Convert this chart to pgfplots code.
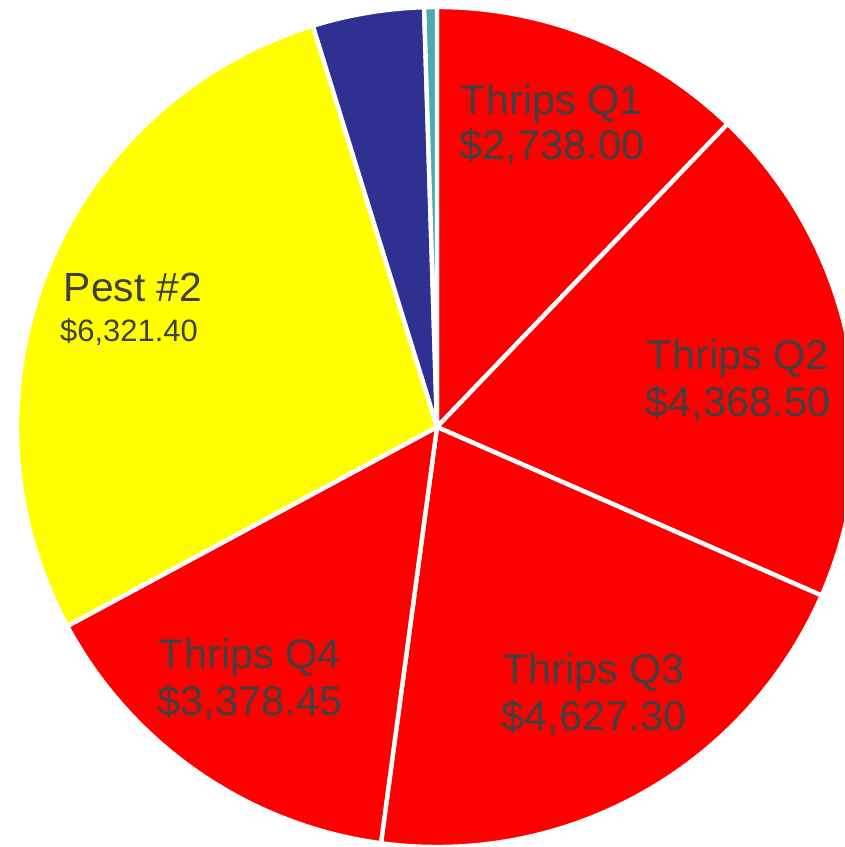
\documentclass[border=0pt]{standalone}
\usepackage{pgfplots}
\pgfplotsset{compat=1.18}
\usepackage{pgfplotstable}
\usepackage{fontspec}
\setmainfont{Liberation Sans}

\definecolor{slice0}{RGB}{255,0,0}
\definecolor{slice1}{RGB}{255,0,0}
\definecolor{slice2}{RGB}{255,0,0}
\definecolor{slice3}{RGB}{255,0,0}
\definecolor{slice4}{RGB}{255,255,0}
\definecolor{slice5}{RGB}{46,49,146}
\definecolor{slice6}{RGB}{75,172,176}
\definecolor{labelgray}{RGB}{64,64,64}

% slice values, clockwise from 12 o'clock
\pgfplotstableread{
label value
ThripsQ1 2738.00
ThripsQ2 4368.50
ThripsQ3 4627.30
ThripsQ4 3378.45
Pest2 6321.40
Other 965
Minor 110
}\piedata

\begin{document}
\begin{tikzpicture}
% total and start/end angles of each slice
\gdef\tot{0}
\foreach \i in {0,...,6}{%
  \pgfplotstablegetelem{\i}{value}\of\piedata
  \xdef\tot{\fpeval{\tot+\pgfplotsretval}}%
}
\gdef\cum{0}
\foreach \i in {0,...,6}{%
  \pgfplotstablegetelem{\i}{value}\of\piedata
  \expandafter\xdef\csname sA\i\endcsname{\fpeval{90-\cum/\tot*360}}%
  \xdef\cum{\fpeval{\cum+\pgfplotsretval}}%
  \expandafter\xdef\csname eA\i\endcsname{\fpeval{90-\cum/\tot*360}}%
}
\begin{axis}[
    width=8.44cm, height=8.47cm,
    scale only axis,
    hide axis,
    xmin=-437, xmax=407,
    ymin=-420, ymax=427,
    clip=true,
]
\pgfplotsinvokeforeach{0,...,6}{%
  \filldraw[fill=slice#1, draw=white, line width=1.25pt, line join=round]
    (axis cs:0,0) -- ++(\csname sA#1\endcsname:4.2cm)
    arc[start angle=\csname sA#1\endcsname, end angle=\csname eA#1\endcsname, radius=4.2cm]
    -- cycle;
}
\begin{scope}[every node/.style={text=labelgray, anchor=base, inner sep=0pt}]
\node[font=\fontsize{11.8pt}{12pt}\selectfont] at (axis cs:115,312) {Thrips Q1};
\node[font=\fontsize{11.8pt}{12pt}\selectfont] at (axis cs:115,267) {\$2,738.00};
\node[font=\fontsize{11.8pt}{12pt}\selectfont] at (axis cs:301,57) {Thrips Q2};
\node[font=\fontsize{11.8pt}{12pt}\selectfont] at (axis cs:301,10) {\$4,368.50};
\node[font=\fontsize{11.8pt}{12pt}\selectfont] at (axis cs:157,-256) {Thrips Q3};
\node[font=\fontsize{11.8pt}{12pt}\selectfont] at (axis cs:157,-303) {\$4,627.30};
\node[font=\fontsize{11.8pt}{12pt}\selectfont] at (axis cs:-187,-241) {Thrips Q4};
\node[font=\fontsize{11.8pt}{12pt}\selectfont] at (axis cs:-187,-288) {\$3,378.45};
\node[font=\fontsize{11.6pt}{12pt}\selectfont] at (axis cs:-304,125) {Pest \#2};
\node[font=\fontsize{8.8pt}{9pt}\selectfont] at (axis cs:-308,85) {\$6,321.40};
\end{scope}
\end{axis}
\pgfresetboundingbox
\path (current axis.south west) rectangle (current axis.north east);
\end{tikzpicture}
\end{document}
